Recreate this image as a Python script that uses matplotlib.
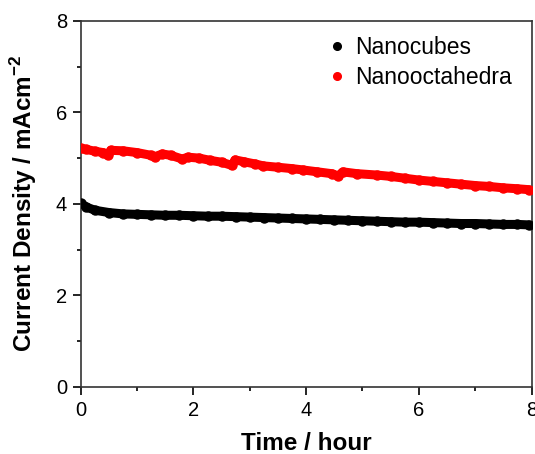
import matplotlib
matplotlib.use("Agg")
import matplotlib.pyplot as plt
from matplotlib.ticker import MultipleLocator

plt.rcParams['font.family'] = ['Liberation Sans', 'DejaVu Sans']
plt.rcParams['mathtext.fontset'] = 'custom'
plt.rcParams['mathtext.rm'] = 'Liberation Sans'
plt.rcParams['mathtext.bf'] = 'Liberation Sans:bold'

# Nanocubes
cube_t = [0, 0.1, 0.25, 0.5, 0.75, 1.0, 1.25, 1.5, 1.75, 2.0, 2.25, 2.5, 2.75, 3.0,
          3.25, 3.5, 3.75, 4.0, 4.25, 4.5, 4.75, 5.0, 5.25, 5.5, 5.75, 6.0, 6.25,
          6.5, 6.75, 7.0, 7.25, 7.5, 7.75, 7.95]
cube_j = [4.01, 3.93, 3.86, 3.81, 3.78, 3.77, 3.76, 3.75, 3.75, 3.74, 3.73, 3.73,
          3.72, 3.71, 3.70, 3.69, 3.68, 3.67, 3.66, 3.65, 3.64, 3.63, 3.62, 3.61,
          3.60, 3.60, 3.59, 3.58, 3.57, 3.57, 3.56, 3.55, 3.55, 3.54]

# Nanooctahedra
octa_t = [0, 0.1, 0.25, 0.4, 0.49, 0.53, 0.75, 1.0, 1.25, 1.31, 1.45, 1.6, 1.8, 1.9,
          2.1, 2.3, 2.5, 2.68, 2.74, 2.9, 3.1, 3.24, 3.5, 3.75, 3.95, 4.2, 4.45,
          4.57, 4.65, 4.9, 5.25, 5.5, 5.75, 6.0, 6.25, 6.5, 6.75, 7.0, 7.25, 7.5,
          7.75, 7.95]
octa_j = [5.21, 5.19, 5.15, 5.12, 5.06, 5.17, 5.16, 5.12, 5.06, 5.03, 5.09, 5.06,
          4.98, 5.02, 5.00, 4.95, 4.91, 4.84, 4.96, 4.92, 4.87, 4.83, 4.80, 4.77,
          4.74, 4.70, 4.66, 4.61, 4.70, 4.66, 4.63, 4.60, 4.56, 4.52, 4.49, 4.46,
          4.43, 4.40, 4.38, 4.35, 4.33, 4.31]

fig = plt.figure(figsize=(5.35, 4.54), dpi=100)
ax = fig.add_axes([0.151, 0.148, 0.8425, 0.806])

ax.plot(cube_t, cube_j, color='black', lw=6.5, solid_capstyle='round',
        solid_joinstyle='round', zorder=2)
ax.plot(cube_t, cube_j, 'o', color='black', ms=6.5, zorder=3)
ax.plot(octa_t, octa_j, color='red', lw=6.5, solid_capstyle='round',
        solid_joinstyle='round', zorder=2)
ax.plot(octa_t, octa_j, 'o', color='red', ms=6.5, zorder=3)

# legend handles
ax.plot([], [], 'o', color='black', ms=5.5, label='Nanocubes')
ax.plot([], [], 'o', color='red', ms=5.5, label='Nanooctahedra')
h, l = ax.get_legend_handles_labels()
ax.legend(h[-2:], l[-2:], loc='upper left', bbox_to_anchor=(0.5, 1.0),
          frameon=False, fontsize=16.5, handletextpad=0.1, handlelength=1.4,
          labelspacing=0.3, borderaxespad=0.25)

ax.set_xlim(0, 8)
ax.set_ylim(0, 8)
ax.xaxis.set_major_locator(MultipleLocator(2))
ax.xaxis.set_minor_locator(MultipleLocator(1))
ax.yaxis.set_major_locator(MultipleLocator(2))
ax.yaxis.set_minor_locator(MultipleLocator(1))
ax.tick_params(which='major', direction='out', length=6, width=1.2,
               labelsize=14.5, top=False, right=False, pad=4)
ax.tick_params(which='minor', direction='out', length=3, width=1.2,
               top=False, right=False)
for s in ax.spines.values():
    s.set_linewidth(1.2)
    s.set_color('#333333')

ax.set_xlabel('Time / hour', fontsize=17.5, fontweight='bold', labelpad=9)
ax.set_ylabel(r'Current Density / mAcm$^{\mathbf{-2}}$', fontsize=17.5,
              fontweight='bold', labelpad=12)

fig.savefig('out.png', dpi=100)
